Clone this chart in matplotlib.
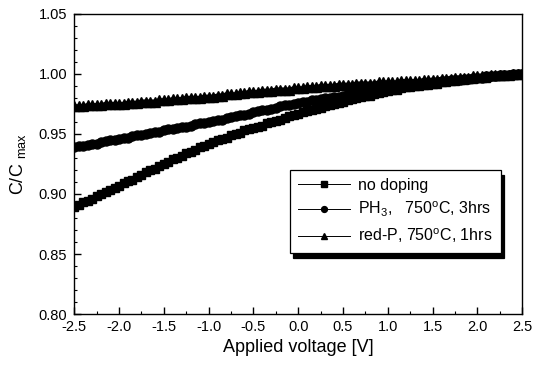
import numpy as np
import matplotlib
matplotlib.use("Agg")
import matplotlib.pyplot as plt
from matplotlib.ticker import MultipleLocator

plt.rcParams['font.family'] = ['Liberation Sans', 'DejaVu Sans']
plt.rcParams['mathtext.fontset'] = 'custom'
plt.rcParams['mathtext.rm'] = 'Liberation Sans'

# applied voltage sweep, 0.05 V steps
voltage = np.linspace(-2.5, 2.5, 101)

no_doping = [
    0.889, 0.891, 0.893, 0.894, 0.896, 0.898, 0.900, 0.902, 0.903, 0.905,
    0.907, 0.909, 0.911, 0.912, 0.914, 0.916, 0.918, 0.920, 0.921, 0.923,
    0.925, 0.927, 0.929, 0.930, 0.932, 0.934, 0.935, 0.937, 0.939, 0.940,
    0.942, 0.943, 0.945, 0.946, 0.947, 0.949, 0.950, 0.951, 0.953, 0.954,
    0.955, 0.956, 0.957, 0.959, 0.960, 0.961, 0.962, 0.963, 0.965, 0.966,
    0.967, 0.968, 0.969, 0.970, 0.971, 0.972, 0.973, 0.974, 0.975, 0.976,
    0.977, 0.978, 0.979, 0.980, 0.981, 0.982, 0.982, 0.983, 0.984, 0.985,
    0.986, 0.987, 0.987, 0.988, 0.989, 0.989, 0.990, 0.990, 0.991, 0.991,
    0.992, 0.992, 0.993, 0.993, 0.994, 0.994, 0.995, 0.995, 0.996, 0.996,
    0.997, 0.997, 0.997, 0.998, 0.998, 0.998, 0.999, 0.999, 0.999, 1.000,
    1.000]

ph3 = [
    0.939, 0.940, 0.940, 0.941, 0.942, 0.942, 0.943, 0.944, 0.945, 0.945,
    0.946, 0.947, 0.947, 0.948, 0.949, 0.949, 0.950, 0.951, 0.952, 0.952,
    0.953, 0.954, 0.954, 0.955, 0.956, 0.956, 0.957, 0.958, 0.959, 0.959,
    0.960, 0.961, 0.962, 0.962, 0.963, 0.964, 0.965, 0.966, 0.966, 0.967,
    0.968, 0.969, 0.970, 0.970, 0.971, 0.972, 0.973, 0.974, 0.974, 0.975,
    0.976, 0.977, 0.977, 0.978, 0.978, 0.979, 0.980, 0.980, 0.981, 0.981,
    0.982, 0.983, 0.983, 0.984, 0.984, 0.985, 0.986, 0.986, 0.987, 0.987,
    0.988, 0.988, 0.989, 0.989, 0.990, 0.990, 0.991, 0.991, 0.992, 0.992,
    0.993, 0.993, 0.994, 0.994, 0.995, 0.995, 0.995, 0.996, 0.996, 0.997,
    0.997, 0.997, 0.998, 0.998, 0.998, 0.999, 0.999, 0.999, 1.000, 1.000,
    1.000]

red_p = [
    0.973, 0.973, 0.973, 0.974, 0.974, 0.974, 0.974, 0.975, 0.975, 0.975,
    0.975, 0.975, 0.976, 0.976, 0.976, 0.977, 0.977, 0.977, 0.977, 0.978,
    0.978, 0.978, 0.979, 0.979, 0.979, 0.980, 0.980, 0.980, 0.980, 0.981,
    0.981, 0.981, 0.982, 0.982, 0.983, 0.983, 0.983, 0.984, 0.984, 0.985,
    0.985, 0.985, 0.986, 0.986, 0.986, 0.987, 0.987, 0.987, 0.987, 0.988,
    0.988, 0.988, 0.989, 0.989, 0.989, 0.990, 0.990, 0.990, 0.990, 0.991,
    0.991, 0.991, 0.991, 0.992, 0.992, 0.992, 0.992, 0.992, 0.993, 0.993,
    0.993, 0.993, 0.993, 0.994, 0.994, 0.994, 0.994, 0.994, 0.995, 0.995,
    0.995, 0.995, 0.996, 0.996, 0.996, 0.997, 0.997, 0.997, 0.997, 0.998,
    0.998, 0.998, 0.998, 0.999, 0.999, 0.999, 0.999, 0.999, 1.000, 1.000,
    1.000]

labels = ['no doping',
          r'PH$_3$,   750$^{\rm o}$C, 3hrs',
          r'red-P, 750$^{\rm o}$C, 1hrs']

fig = plt.figure(figsize=(5.34, 3.66), dpi=100)
ax = fig.add_axes([0.139, 0.142, 0.839, 0.820])

ax.plot(voltage, no_doping, '-s', color='black', lw=3, ms=6, label=labels[0])
ax.plot(voltage, ph3, '-o', color='black', lw=3, ms=6.5, label=labels[1])
ax.plot(voltage, red_p, '-^', color='black', lw=3, ms=6.5, label=labels[2])

ax.set_xlim(-2.5, 2.5)
ax.set_ylim(0.80, 1.05)
ax.xaxis.set_major_locator(MultipleLocator(0.5))
ax.xaxis.set_minor_locator(MultipleLocator(0.25))
ax.yaxis.set_major_locator(MultipleLocator(0.05))
ax.yaxis.set_minor_locator(MultipleLocator(0.01))
ax.xaxis.set_major_formatter(plt.FormatStrFormatter('%.1f'))
ax.yaxis.set_major_formatter(plt.FormatStrFormatter('%.2f'))
ax.tick_params(which='both', direction='in', top=False, right=False, labelsize=10.5)
ax.tick_params(which='major', length=5, width=1)
ax.tick_params(which='minor', length=2.5, width=0.8)
ax.tick_params(axis='y', pad=5)
ax.tick_params(axis='x', pad=4)
for s in ax.spines.values():
    s.set_linewidth(1.0)

ax.set_xlabel('Applied voltage [V]', fontsize=13, labelpad=4)
ax.set_ylabel(r'C/C $_{\rm max}$', fontsize=13, labelpad=8)

leg = ax.legend(loc='upper right', bbox_to_anchor=(0.952, 0.48), borderaxespad=0,
                fontsize=11.5, frameon=True, fancybox=False, framealpha=1,
                edgecolor='black', handlelength=3.3, markerscale=0.65,
                handletextpad=0.5, labelspacing=0.45, borderpad=0.5,
                shadow={'ox': 2.5, 'oy': -3.5, 'facecolor': 'black',
                        'edgecolor': 'black', 'alpha': 1})
leg.get_frame().set_linewidth(0.9)
for h in leg.get_lines():
    h.set_linewidth(0.7)

fig.savefig('out.png', dpi=100)
